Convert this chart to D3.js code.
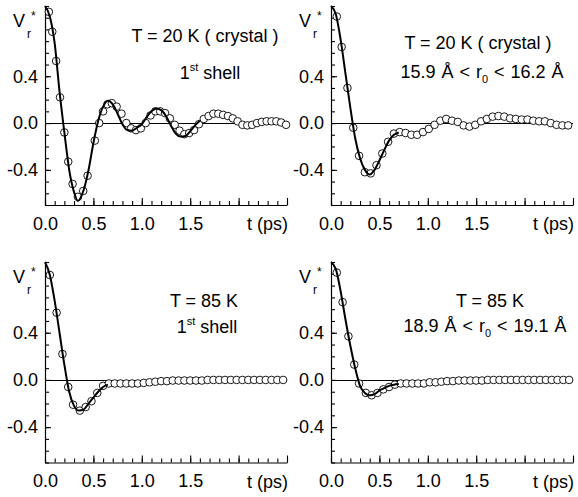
<!DOCTYPE html>
<html>
<head>
<meta charset="utf-8">
<script src="https://cdn.jsdelivr.net/npm/d3@7"></script>
<style>
  body { margin: 0; background: #fff; }
  svg { display: block; }
</style>
</head>
<body>
<div id="chart"></div>
<script>
// values: [t (ps), Vr*]
// circles = open markers, curves = solid line
const circles20First = [[0.04,0.95],[0.075,0.78],[0.115,0.53],[0.155,0.22],[0.2,-0.08],[0.24,-0.33],[0.285,-0.52],[0.34,-0.63],[0.395,-0.58],[0.44,-0.45],[0.515,-0.15],[0.56,0.0],[0.6,0.10],[0.645,0.16],[0.69,0.17],[0.74,0.14],[0.79,0.08],[0.84,0.0],[0.89,-0.045],[0.94,-0.06],[0.99,-0.045],[1.04,0.0],[1.09,0.065],[1.14,0.10],[1.19,0.10],[1.24,0.085],[1.29,0.04],[1.34,-0.015],[1.39,-0.065],[1.44,-0.095],[1.49,-0.085],[1.54,-0.06],[1.59,-0.01],[1.64,0.035],[1.69,0.06],[1.74,0.08],[1.79,0.08],[1.84,0.07],[1.89,0.06],[1.94,0.04],[1.99,0.015],[2.04,-0.015],[2.09,-0.02],[2.14,-0.015],[2.19,0.0],[2.24,0.01],[2.29,0.015],[2.34,0.015],[2.39,0.015],[2.44,0.005],[2.49,-0.015]];
const curve20First = [[0,1.0],[0.05,0.91],[0.1,0.68],[0.15,0.27],[0.2,-0.08],[0.25,-0.40],[0.3,-0.59],[0.34,-0.665],[0.4,-0.57],[0.45,-0.40],[0.5,-0.17],[0.55,0.02],[0.6,0.14],[0.65,0.19],[0.7,0.16],[0.75,0.08],[0.8,-0.01],[0.85,-0.06],[0.9,-0.065],[0.95,-0.04],[1.0,-0.01],[1.05,0.05],[1.1,0.10],[1.15,0.125],[1.2,0.11],[1.25,0.06],[1.3,-0.02],[1.35,-0.09],[1.4,-0.115],[1.45,-0.11],[1.5,-0.07],[1.55,-0.02],[1.6,0.02]];

const circles20Far = [[0.06,0.91],[0.11,0.65],[0.17,0.30],[0.23,-0.04],[0.29,-0.28],[0.35,-0.42],[0.41,-0.43],[0.47,-0.36],[0.53,-0.26],[0.59,-0.16],[0.65,-0.09],[0.71,-0.077],[0.77,-0.085],[0.83,-0.10],[0.89,-0.10],[0.95,-0.077],[1.01,-0.05],[1.07,-0.015],[1.13,0.02],[1.19,0.035],[1.25,0.02],[1.31,0.01],[1.37,-0.02],[1.43,-0.03],[1.49,-0.015],[1.55,0.015],[1.61,0.035],[1.67,0.055],[1.73,0.06],[1.79,0.055],[1.85,0.04],[1.91,0.035],[1.97,0.03],[2.03,0.03],[2.09,0.02],[2.15,0.015],[2.21,0.015],[2.27,0.0],[2.33,-0.015],[2.39,-0.02],[2.45,-0.02]];
const curve20Far = [[0,1.0],[0.05,0.93],[0.1,0.71],[0.15,0.42],[0.2,0.13],[0.25,-0.13],[0.3,-0.30],[0.35,-0.40],[0.4,-0.44],[0.45,-0.40],[0.5,-0.32],[0.55,-0.23],[0.6,-0.15],[0.65,-0.10],[0.7,-0.08]];

const circles85First = [[0.05,0.89],[0.12,0.57],[0.18,0.22],[0.24,-0.06],[0.29,-0.21],[0.36,-0.26],[0.42,-0.23],[0.48,-0.18],[0.54,-0.11],[0.6,-0.05],[0.66,-0.03],[0.72,-0.03],[0.78,-0.03],[0.84,-0.03],[0.9,-0.03],[0.96,-0.03],[1.02,-0.025],[1.08,-0.02],[1.14,-0.015],[1.2,-0.01],[1.26,-0.01],[1.32,-0.005],[1.38,-0.005],[1.44,-0.005],[1.5,-0.005],[1.56,-0.005],[1.62,-0.005],[1.68,0.0],[1.74,0.0],[1.8,0.0],[1.86,0.0],[1.92,0.0],[1.98,0.0],[2.04,0.0],[2.1,0.0],[2.16,0.0],[2.22,0.0],[2.28,0.0],[2.34,0.0],[2.4,0.0],[2.46,0.0]];
const curve85First = [[0,1.0],[0.05,0.89],[0.1,0.67],[0.15,0.40],[0.2,0.13],[0.25,-0.10],[0.3,-0.22],[0.35,-0.26],[0.4,-0.25],[0.45,-0.20],[0.5,-0.15],[0.55,-0.10],[0.6,-0.06],[0.65,-0.04]];

const circles85Far = [[0.06,0.91],[0.12,0.66],[0.18,0.37],[0.24,0.13],[0.29,-0.03],[0.36,-0.11],[0.42,-0.13],[0.48,-0.11],[0.54,-0.08],[0.6,-0.06],[0.66,-0.04],[0.72,-0.03],[0.78,-0.03],[0.84,-0.03],[0.9,-0.03],[0.96,-0.03],[1.02,-0.02],[1.08,-0.02],[1.14,-0.015],[1.2,-0.01],[1.26,-0.01],[1.32,-0.005],[1.38,-0.005],[1.44,-0.005],[1.5,-0.005],[1.56,-0.005],[1.62,0.0],[1.68,0.0],[1.74,0.0],[1.8,0.0],[1.86,0.0],[1.92,0.0],[1.98,0.0],[2.04,0.0],[2.1,0.0],[2.16,0.0],[2.22,0.0],[2.28,0.0],[2.34,0.0],[2.4,0.0],[2.46,0.0]];
const curve85Far = [[0,1.0],[0.05,0.94],[0.1,0.75],[0.15,0.51],[0.2,0.29],[0.25,0.10],[0.3,-0.05],[0.35,-0.11],[0.4,-0.13],[0.45,-0.12],[0.5,-0.09],[0.55,-0.07],[0.6,-0.05],[0.65,-0.04],[0.7,-0.035]];

const yTickLabels = [-0.4, 0.0, 0.4];
const xTickLabels = [0.0, 0.5, 1.0, 1.5];
const xLabel = "t (ps)";

const W = 578, H = 497;
const font = "'Liberation Sans', Arial, Helvetica, sans-serif";

const svg = d3.select("#chart").append("svg")
    .attr("width", W)
    .attr("height", H);

// panel frames, in pixels
const panels = [
    { x0: 45,  x1: 287, yb: 205,   yt: 6,   circ: circles20First, line: curve20First,
      title: { x: 205, y: 42, text: "T = 20 K ( crystal )" }, sub: { x: 210, y: 79, kind: "shell" } },
    { x0: 331, x1: 573, yb: 205,   yt: 6,   circ: circles20Far, line: curve20Far,
      title: { x: 478, y: 49, text: "T = 20 K ( crystal )" }, sub: { x: 482, y: 78, kind: "r", lo: "15.9", hi: "16.2" } },
    { x0: 45,  x1: 287, yb: 462.5, yt: 262, circ: circles85First, line: curve85First,
      title: { x: 204, y: 307, text: "T = 85 K" }, sub: { x: 207, y: 333, kind: "shell" } },
    { x0: 331, x1: 573, yb: 462.5, yt: 262, circ: circles85Far, line: curve85Far,
      title: { x: 490, y: 307, text: "T = 85 K" }, sub: { x: 485, y: 332, kind: "r", lo: "18.9", hi: "19.1" } }
];

const fmt = d => d.toFixed(1);

panels.forEach(p => {
    const g = svg.append("g");

    const x = d3.scaleLinear().domain([0, 2.5]).range([p.x0, p.x1]);
    const y = d3.scaleLinear().domain([-0.7, 1.0]).range([p.yb, p.yt]);

    // zero line
    const y0 = Math.round(y(0)) + 0.5;
    g.append("line")
        .attr("x1", x(0)).attr("x2", x(2.5))
        .attr("y1", y0).attr("y2", y0)
        .attr("stroke", "#000").attr("stroke-width", 1.1);

    // left axis: minor ticks every 0.1, inward
    g.append("g")
        .attr("transform", `translate(${p.x0},0)`)
        .call(d3.axisLeft(y).tickValues(d3.range(-7, 11).map(i => i / 10)).tickSize(-4).tickFormat(""))
        .call(s => s.select(".domain").remove());
    const ya = g.append("g")
        .attr("transform", `translate(${p.x0},0)`)
        .call(d3.axisLeft(y).tickValues(yTickLabels).tickSizeInner(-6).tickSizeOuter(0).tickPadding(7).tickFormat(fmt));

    // bottom axis
    g.append("g")
        .attr("transform", `translate(0,${p.yb})`)
        .call(d3.axisBottom(x).tickValues(d3.range(0, 26).map(i => i / 10)).tickSize(-4).tickFormat(""))
        .call(s => s.select(".domain").remove());
    const xa = g.append("g")
        .attr("transform", `translate(0,${p.yb})`)
        .call(d3.axisBottom(x).tickValues(d3.range(0, 6).map(i => i / 2)).tickSizeInner(-7).tickSizeOuter(0).tickPadding(12)
            .tickFormat(d => xTickLabels.includes(d) ? fmt(d) : ""));

    [ya, xa].forEach(a => {
        a.attr("font-family", font).attr("font-size", 18);
        a.selectAll("text").attr("fill", "#000");
        a.selectAll("line, path").attr("stroke", "#000").attr("stroke-width", 1.2);
    });
    g.selectAll(".tick line").attr("stroke", "#000").attr("stroke-width", 1.1);

    g.append("text")
        .attr("x", p.x1 + 1).attr("y", p.yb + 25)
        .attr("text-anchor", "end")
        .attr("font-family", font).attr("font-size", 18)
        .text(xLabel);

    // y label V_r^*
    const vl = g.append("g").attr("font-family", font);
    vl.append("text").attr("x", p.x0 - 32).attr("y", p.yt + 21).attr("font-size", 18).text("V");
    vl.append("text").attr("x", p.x0 - 18).attr("y", p.yt + 32).attr("font-size", 12).text("r");
    vl.append("text").attr("x", p.x0 - 14).attr("y", p.yt + 14).attr("font-size", 12).text("*");

    // circles
    g.append("g").selectAll("circle")
        .data(p.circ)
        .join("circle")
        .attr("cx", d => x(d[0]))
        .attr("cy", d => y(d[1]))
        .attr("r", 3.8)
        .attr("fill", "#fff")
        .attr("stroke", "#000")
        .attr("stroke-width", 0.9);

    // solid curve
    g.append("path")
        .datum(p.line)
        .attr("fill", "none")
        .attr("stroke", "#000")
        .attr("stroke-width", 2)
        .attr("d", d3.line().x(d => x(d[0])).y(d => y(d[1])).curve(d3.curveMonotoneX));

    // annotations
    g.append("text")
        .attr("x", p.title.x).attr("y", p.title.y)
        .attr("text-anchor", "middle")
        .attr("font-family", font).attr("font-size", 18)
        .text(p.title.text);

    const st = g.append("text")
        .attr("x", p.sub.x).attr("y", p.sub.y)
        .attr("text-anchor", "middle")
        .attr("font-family", font).attr("font-size", 18);
    if (p.sub.kind === "shell") {
        st.append("tspan").text("1");
        st.append("tspan").attr("font-size", 11).attr("dy", -8).text("st");
        st.append("tspan").attr("dy", 8).text(" shell");
    } else {
        st.attr("word-spacing", 1);
        st.append("tspan").text(`${p.sub.lo} Å < r`);
        st.append("tspan").attr("font-size", 11).attr("dy", 5).text("0");
        st.append("tspan").attr("dy", -5).text(` < ${p.sub.hi} Å`);
    }
});
</script>
</body>
</html>
